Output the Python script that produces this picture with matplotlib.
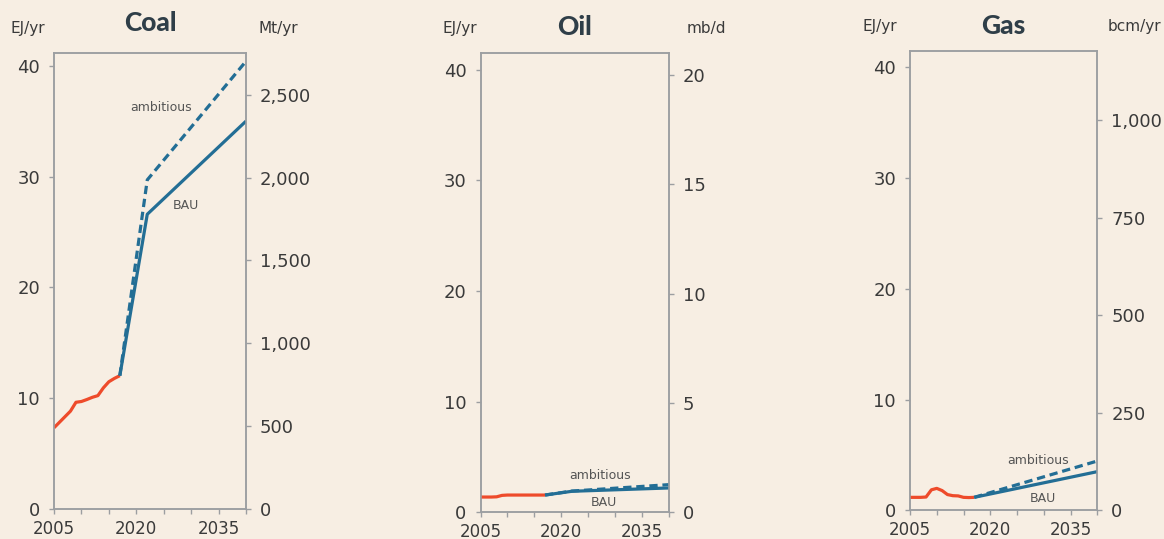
import numpy as np
import matplotlib
matplotlib.use("Agg")
import matplotlib.pyplot as plt
from matplotlib.ticker import FuncFormatter

# Historical data, EJ/yr
hist_years = [2005, 2006, 2007, 2008, 2009, 2010, 2011, 2012, 2013, 2014, 2015, 2016, 2017]
coal_hist = [7.35, 7.85, 8.35, 8.85, 9.65, 9.72, 9.9, 10.1, 10.25, 10.95, 11.5, 11.8, 12.05]
oil_hist = [1.38, 1.38, 1.38, 1.40, 1.53, 1.56, 1.56, 1.56, 1.56, 1.56, 1.56, 1.56, 1.56]
gas_hist = [1.17, 1.17, 1.17, 1.20, 1.85, 1.98, 1.78, 1.42, 1.32, 1.30, 1.17, 1.15, 1.17]

# Projections, EJ/yr
proj_years = [2017, 2022, 2040]
coal_bau = [12.05, 26.6, 35.0]
coal_amb = [12.05, 29.7, 40.4]
oil_bau = [1.56, 1.90, 2.2]
oil_amb = [1.56, 1.92, 2.5]
gas_years = [2017, 2040]
gas_bau = [1.17, 3.49]
gas_amb = [1.17, 4.45]

x_ticks = [2005, 2010, 2015, 2020, 2025, 2030, 2035, 2040]
x_labels = ["2005", "", "", "2020", "", "", "2035", ""]
left_ticks = [0, 10, 20, 30, 40]

BG = "#f7eee3"
RED = "#ee4b2b"
BLUE = "#236e95"
GREY = "#9c9ea1"
TXT = "#3a3a3a"
TITLE = "#2f3e48"

plt.rcParams["font.family"] = ["DejaVu Sans"]

fig = plt.figure(figsize=(11.64, 5.39), dpi=100, facecolor=BG)
W, H = 1164, 539


def px_axes(l, t, r, b):
    return [l / W, 1 - b / H, (r - l) / W, (b - t) / H]


panels = [
    dict(title="Coal", box=(54, 52.7, 246, 509.3), ytop=41.17,
         hist=coal_hist, bau=(proj_years, coal_bau), amb=(proj_years, coal_amb),
         unit_l="EJ/yr", unit_r="Mt/yr", factor=66.86,
         rticks=[0, 500, 1000, 1500, 2000, 2500],
         amb_lab=(2024.5, 36.2), bau_lab=(2029.1, 27.4),
         title_y=23, unit_y=29, unit_lx=10, unit_rx=259),
    dict(title="Oil", box=(480.5, 53.3, 668.7, 512.3), ytop=41.5,
         hist=oil_hist, bau=(proj_years, oil_bau), amb=(proj_years, oil_amb),
         unit_l="EJ/yr", unit_r="mb/d", factor=0.506,
         rticks=[0, 5, 10, 15, 20],
         amb_lab=(2027.2, 3.37), bau_lab=(2027.9, 0.93),
         title_y=27, unit_y=29, unit_lx=442, unit_rx=687),
    dict(title="Gas", box=(910, 50.7, 1097.3, 510.3), ytop=41.5,
         hist=gas_hist, bau=(gas_years, gas_bau), amb=(gas_years, gas_amb),
         unit_l="EJ/yr", unit_r="bcm/yr", factor=28.4,
         rticks=[0, 250, 500, 750, 1000],
         amb_lab=(2028.9, 4.48), bau_lab=(2029.9, 1.11),
         title_y=26, unit_y=26, unit_lx=863, unit_rx=1108),
]

for p in panels:
    ax = fig.add_axes(px_axes(*p["box"]))
    ax.set_facecolor("none")
    ax2 = ax.twinx()

    ax.plot(hist_years, p["hist"], color=RED, lw=2.3, solid_capstyle="butt", zorder=3)
    ax.plot(*p["amb"], color=BLUE, lw=2.3, linestyle=(0, (2.6, 1.5)), zorder=3)
    ax.plot(*p["bau"], color=BLUE, lw=2.3, solid_capstyle="butt", zorder=4)

    ax.set_xlim(2005, 2040)
    ax.set_ylim(0, p["ytop"])
    ax2.set_ylim(0, p["ytop"] * p["factor"])

    ax.set_xticks(x_ticks)
    ax.set_xticklabels(x_labels)
    ax.set_yticks(left_ticks)
    ax2.set_yticks(p["rticks"])
    ax2.yaxis.set_major_formatter(FuncFormatter(lambda v, pos: f"{v:,.0f}"))

    for a in (ax, ax2):
        for s in a.spines.values():
            s.set_color(GREY)
            s.set_linewidth(1.1)
        a.tick_params(colors=GREY, labelcolor=TXT, length=3.5, width=1.0,
                      pad=6.5, labelsize=13)
    # keep the year labels inside the picture, clear of the "0"
    ax.tick_params(axis="x", pad=4, labelsize=12)

    ax.text(*p["amb_lab"], "ambitious", ha="center", va="center", fontsize=9, color="#555555")
    ax.text(*p["bau_lab"], "BAU", ha="center", va="center", fontsize=9, color="#555555")

    l, t, r, b = p["box"]
    fig.text(((l + r) / 2) / W, 1 - p["title_y"] / H, p["title"], ha="center", va="center",
             fontsize=19, fontweight="black", color=TITLE, family=["Lato", "DejaVu Sans"])
    fig.text(p["unit_lx"] / W, 1 - p["unit_y"] / H, p["unit_l"], ha="left", va="center",
             fontsize=11, color=TXT)
    fig.text(p["unit_rx"] / W, 1 - p["unit_y"] / H, p["unit_r"], ha="left", va="center",
             fontsize=11, color=TXT)

fig.savefig("out.png", dpi=100, facecolor=BG)
